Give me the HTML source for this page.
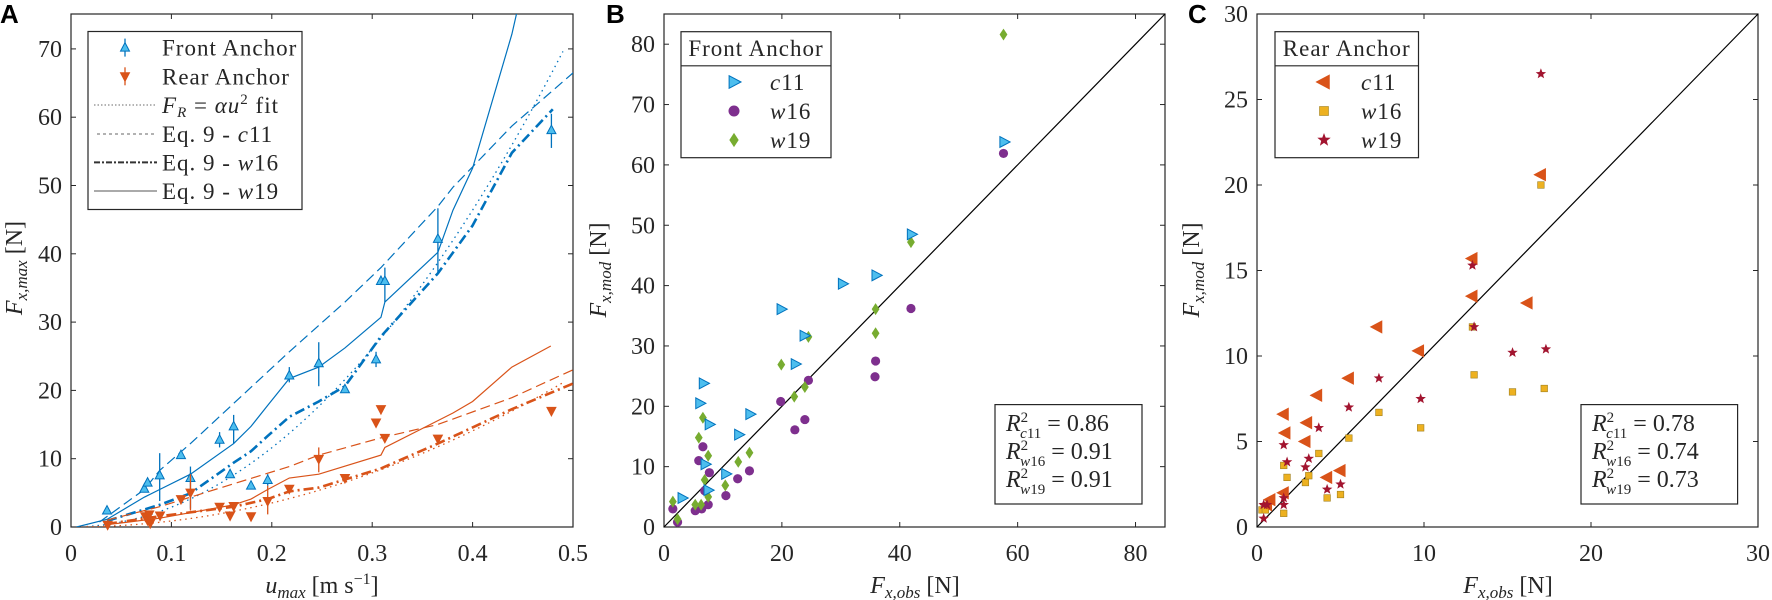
<!DOCTYPE html>
<html><head><meta charset="utf-8"><style>
html,body{margin:0;padding:0;background:#fff;}
svg{display:block;}
text{font-family:"Liberation Serif",serif;fill:#262626;}
.tk{font-size:24px;}
.lg{font-size:23px;letter-spacing:1px;}
.pl{font-family:"Liberation Sans",sans-serif;font-weight:bold;font-size:26px;fill:#000;}
</style></head><body>
<svg id="s" width="1772" height="600" xmlns="http://www.w3.org/2000/svg"></svg>
<script>
const S=document.getElementById('s');let h='';
const BL='#0072BD',LB='#4DBEEE',OR='#D95319',PU='#7E2F8E',GR='#77AC30',YE='#EDB120',RE='#A2142F';
function axes(x0,x1,y0,y1,xt,yt,fx,fy){
 h+=`<rect x="${x0}" y="${y1}" width="${x1-x0}" height="${y0-y1}" fill="none" stroke="#262626" stroke-width="1.2"/>`;
 xt.forEach(v=>{const x=fx(v);h+=`<line x1="${x}" y1="${y0}" x2="${x}" y2="${y0-5}" stroke="#262626"/><line x1="${x}" y1="${y1}" x2="${x}" y2="${y1+5}" stroke="#262626"/><text class="tk" x="${x}" y="${y0+34}" text-anchor="middle">${v}</text>`;});
 yt.forEach(v=>{const y=fy(v);h+=`<line x1="${x0}" y1="${y}" x2="${x0+5}" y2="${y}" stroke="#262626"/><line x1="${x1}" y1="${y}" x2="${x1-5}" y2="${y}" stroke="#262626"/><text class="tk" x="${x0-9}" y="${y+8}" text-anchor="end">${v}</text>`;});
}
const ax=X=>1.28+0.3273*X, ay=Y=>-0.22+0.3826*Y;
const fxA=v=>71+v*1004, fyA=v=>527-v*6.83;
axes(71,573,527,14,[0,0.1,0.2,0.3,0.4,0.5],[0,10,20,30,40,50,60,70],fxA,fyA);
h+=`<clipPath id="ca"><rect x="71" y="14" width="502" height="513"/></clipPath><g clip-path="url(#ca)">`;
function pl(pts,col,w,dash){h+=`<polyline points="${pts.map(p=>ax(p[0])+','+ay(p[1])).join(' ')}" fill="none" stroke="${col}" stroke-width="${w}" ${dash?'stroke-dasharray="'+dash+'"':''}/>`;}
function fit(a,col){let p=[];for(let u=0.01;u<=0.5;u+=0.01)p.push(fxA(u)+','+fyA(a*u*u));h+=`<polyline points="${p.join(' ')}" fill="none" stroke="${col}" stroke-width="1.3" stroke-dasharray="1.5 4"/>`;}
fit(290,BL);fit(88,OR);
pl([[230,1378],[323,1358],[437,1300],[484,1280],[578,1240],[710,1160],[763,1115],[814,1060],[880,990],[970,960],[1050,910],[1160,830],[1172,790],[1334,660],[1380,550],[1440,440],[1560,90],[1600,-60]],BL,1.2);
pl([[300,1365],[437,1280],[484,1230],[578,1160],[710,1055],[880,920],[1050,790],[1160,700],[1334,540],[1380,490],[1560,330],[1747,191]],BL,1.2,'10 5');
pl([[323,1362],[484,1320],[578,1290],[710,1210],[763,1180],[814,1140],[880,1090],[970,1050],[1050,1010],[1160,880],[1334,715],[1440,590],[1560,400],[1685,286]],BL,2.6,'10 4 2 4');
pl([[323,1372],[484,1355],[710,1320],[763,1305],[814,1280],[880,1250],[970,1240],[1160,1190],[1172,1170],[1334,1100],[1380,1080],[1440,1050],[1560,960],[1679,905]],OR,1.2);
pl([[323,1360],[484,1325],[578,1300],[710,1265],[880,1220],[970,1190],[1160,1145],[1334,1110],[1560,1040],[1747,967]],OR,1.2,'10 5');
pl([[323,1370],[484,1350],[710,1325],[814,1305],[880,1285],[970,1275],[1160,1225],[1334,1160],[1560,1070],[1747,1003]],OR,2.6,'10 4 2 4');
h+='</g>';
function triU(x,y,s,f,e){h+=`<polygon points="${x},${y-s} ${x-s*0.9},${y+s*0.7} ${x+s*0.9},${y+s*0.7}" fill="${f}" stroke="${e}" stroke-width="1"/>`;}
function triD(x,y,s,f,e){h+=`<polygon points="${x},${y+s} ${x-s*0.9},${y-s*0.7} ${x+s*0.9},${y-s*0.7}" fill="${f}" stroke="${e}" stroke-width="1"/>`;}
const fr=[[323,1335],[437,1278],[447,1262],[484,1243,1185,1310],[549,1190],[578,1250,1220,1330],[667,1150,1130,1170],[699,1240],[710,1115,1085,1160],[763,1270],[814,1255,1240,1270],[880,982,960,1000],[970,950,895,1010],[1050,1018],[1145,940,920,960],[1160,735],[1172,735,700,790],[1334,625,545,715]];
fr.forEach(p=>{if(p[2])h+=`<line x1="${ax(p[0])}" y1="${ay(p[2])}" x2="${ax(p[0])}" y2="${ay(p[3])}" stroke="${BL}" stroke-width="1.3"/>`;triU(ax(p[0]),ay(p[1]),5,LB,BL);});
h+=`<line x1="${fxA(0.4785)}" y1="${fyA(55.5)}" x2="${fxA(0.4785)}" y2="${fyA(60.5)}" stroke="${BL}" stroke-width="1.3"/>`;triU(fxA(0.4785),fyA(58.1),5,LB,BL);
const re=[[325,1372],[440,1350],[447,1360],[455,1368],[452,1345],[485,1348],[549,1305],[578,1288,1240,1335],[667,1325],[699,1348],[710,1323],[763,1350],[814,1310,1270,1345],[880,1278],[970,1200,1170,1235],[1050,1250],[1145,1105],[1160,1070],[1172,1145],[1334,1147]];
re.forEach(p=>{if(p[2])h+=`<line x1="${ax(p[0])}" y1="${ay(p[2])}" x2="${ax(p[0])}" y2="${ay(p[3])}" stroke="${OR}" stroke-width="1.3"/>`;triD(ax(p[0]),ay(p[1]),5,OR,OR);});
triD(fxA(0.4785),fyA(17),5,OR,OR);
h+=`<rect x="88" y="31.5" width="214" height="178" fill="#fff" stroke="#262626" stroke-width="1.2"/>`;
const ly=[47.6,76.3,105,134,162.4,191];
h+=`<line x1="125" y1="${ly[0]-9}" x2="125" y2="${ly[0]+9}" stroke="${BL}" stroke-width="1.3"/>`;triU(125,ly[0],5,LB,BL);
h+=`<line x1="125" y1="${ly[1]-9}" x2="125" y2="${ly[1]+9}" stroke="${OR}" stroke-width="1.3"/>`;triD(125,ly[1],5,OR,OR);
h+=`<line x1="94" y1="${ly[2]}" x2="157" y2="${ly[2]}" stroke="#888" stroke-width="1.3" stroke-dasharray="1.5 2"/>`;
h+=`<line x1="97" y1="${ly[3]}" x2="157" y2="${ly[3]}" stroke="#666" stroke-width="1" stroke-dasharray="3 3"/>`;
h+=`<line x1="94" y1="${ly[4]}" x2="157" y2="${ly[4]}" stroke="#333" stroke-width="2" stroke-dasharray="6 2 2 2"/>`;
h+=`<line x1="94" y1="${ly[5]}" x2="157" y2="${ly[5]}" stroke="#555" stroke-width="1"/>`;
const lt=['Front Anchor','Rear Anchor','<tspan font-style="italic">F</tspan><tspan font-style="italic" font-size="15" dy="4">R</tspan><tspan dy="-4"> = </tspan><tspan font-style="italic">αu</tspan><tspan font-size="15" dy="-9">2</tspan><tspan dy="9"> fit</tspan>','Eq. 9 - <tspan font-style="italic">c</tspan>11','Eq. 9 - <tspan font-style="italic">w</tspan>16','Eq. 9 - <tspan font-style="italic">w</tspan>19'];
lt.forEach((t,i)=>h+=`<text class="lg" x="162" y="${ly[i]+8}">${t}</text>`);
h+=`<text x="322" y="593" font-size="24" text-anchor="middle"><tspan font-style="italic">u</tspan><tspan font-style="italic" font-size="17" dy="5">max</tspan><tspan dy="-5"> [m s</tspan><tspan font-size="16" dy="-9">−1</tspan><tspan dy="9">]</tspan></text>`;
h+=`<text transform="translate(22,268) rotate(-90)" font-size="24" text-anchor="middle"><tspan font-style="italic">F</tspan><tspan font-style="italic" font-size="17" dy="5">x,max</tspan><tspan dy="-5"> [N]</tspan></text>`;
h+=`<text class="pl" x="0" y="23">A</text>`;
const fxB=v=>664+v*5.894, fyB=v=>527-v*6.035;
axes(664,1165,527,14,[0,20,40,60,80],[0,10,20,30,40,50,60,70,80],fxB,fyB);
h+=`<line x1="664" y1="527" x2="1165" y2="14" stroke="#000" stroke-width="1.2"/>`;
function triR(x,y,s,f,e){h+=`<polygon points="${x+s},${y} ${x-s*0.7},${y-s*0.9} ${x-s*0.7},${y+s*0.9}" fill="${f}" stroke="${e}" stroke-width="1"/>`;}
function triL(x,y,s,f,e){h+=`<polygon points="${x-s},${y} ${x+s*0.7},${y-s*0.9} ${x+s*0.7},${y+s*0.9}" fill="${f}" stroke="${e}" stroke-width="1"/>`;}
function circ(x,y,r,f){h+=`<circle cx="${x}" cy="${y}" r="${r}" fill="${f}"/>`;}
function dia(x,y,s,f){h+=`<polygon points="${x},${y-s*1.3} ${x+s*0.85},${y} ${x},${y+s*1.3} ${x-s*0.85},${y}" fill="${f}"/>`;}
function sq(x,y,s,f){h+=`<rect x="${x-s}" y="${y-s}" width="${2*s}" height="${2*s}" fill="${f}" stroke="#a08020" stroke-width="0.6"/>`;}
function star(x,y,r,f){let p=[];for(let i=0;i<10;i++){const a=-Math.PI/2+i*Math.PI/5,rr=i%2?r*0.42:r;p.push((x+rr*Math.cos(a)).toFixed(1)+','+(y+rr*Math.sin(a)).toFixed(1));}h+=`<polygon points="${p.join(' ')}" fill="${f}"/>`;}
const bc=[[3.1,4.8],[6.1,20.5],[6.7,23.8],[7.0,10.4],[7.7,17.0],[7.5,6.1],[10.5,8.8],[12.7,15.3],[14.6,18.7],[19.9,36.1],[22.3,27.0],[23.8,31.7],[30.3,40.3],[36,41.7],[42,48.5],[57.7,63.8]];
const bw16=[[1.5,3.0],[2.3,0.8],[5.3,2.7],[5.9,11.0],[6.4,3.0],[6.6,13.3],[6.9,6.0],[7.5,3.7],[7.7,9.0],[10.5,5.2],[12.5,8.0],[14.5,9.3],[19.8,20.8],[22.2,16.1],[23.9,17.8],[24.5,24.3],[35.9,27.5],[35.8,24.9],[41.9,36.2],[57.6,61.9]];
const bw19=[[1.5,4.2],[2.3,1.3],[5.3,3.7],[5.9,14.8],[6.3,3.7],[6.6,18.1],[6.9,7.8],[7.5,5.0],[7.5,11.8],[10.4,6.9],[12.6,10.8],[14.5,12.3],[19.9,26.9],[22.1,21.6],[23.9,23.2],[24.5,31.5],[35.9,32.1],[35.9,36.1],[41.9,47.2],[57.6,81.6]];
bw16.forEach(p=>circ(fxB(p[0]),fyB(p[1]),4.6,PU));
bw19.forEach(p=>dia(fxB(p[0]),fyB(p[1]),4.6,GR));
bc.forEach(p=>triR(fxB(p[0]),fyB(p[1]),6,LB,BL));
function legT(x,w,title,tx){h+=`<rect x="${x}" y="31.7" width="${w}" height="126" fill="#fff" stroke="#262626" stroke-width="1.2"/><line x1="${x}" y1="65.8" x2="${x+w}" y2="65.8" stroke="#262626" stroke-width="1.2"/><text class="lg" x="${x+w/2}" y="56" text-anchor="middle">${title}</text>`;
 ['c11','w16','w19'].forEach((t,i)=>h+=`<text class="lg" x="${tx}" y="${90+i*29}"><tspan font-style="italic">${t[0]}</tspan>${t.slice(1)}</text>`);}
legT(681,150,'Front Anchor',770);
triR(734,82,7,LB,BL);circ(734,111,5.5,PU);dia(734,140,5.5,GR);
function rbox(x,w,vals){h+=`<rect x="${x}" y="404.6" width="${w}" height="99.4" fill="#fff" stroke="#262626" stroke-width="1.2"/>`;
 ['c11','w16','w19'].forEach((t,i)=>h+=`<text font-size="24" x="${x+11}" y="${431+i*28}"><tspan font-style="italic">R</tspan><tspan font-size="15" dy="-9">2</tspan><tspan font-size="15" font-style="italic" dx="-8" dy="16">${t[0]}</tspan><tspan font-size="15">${t.slice(1)}</tspan><tspan dy="-7"> = ${vals[i]}</tspan></text>`);}
rbox(995,147,['0.86','0.91','0.91']);
h+=`<text x="915" y="593" font-size="24" text-anchor="middle"><tspan font-style="italic">F</tspan><tspan font-style="italic" font-size="17" dy="5">x,obs</tspan><tspan dy="-5"> [N]</tspan></text>`;
h+=`<text transform="translate(606,270) rotate(-90)" font-size="24" text-anchor="middle"><tspan font-style="italic">F</tspan><tspan font-style="italic" font-size="17" dy="5">x,mod</tspan><tspan dy="-5"> [N]</tspan></text>`;
h+=`<text class="pl" x="606" y="23">B</text>`;
const fxC=v=>1257+v*16.7, fyC=v=>527-v*17.1;
axes(1257,1758,527,14,[0,10,20,30],[0,5,10,15,20,25,30],fxC,fyC);
h+=`<line x1="1257" y1="527" x2="1758" y2="14" stroke="#000" stroke-width="1.2"/>`;
const cy16=[[0.3,1.0],[0.5,1.0],[1.6,0.8],[1.6,3.6],[1.8,2.9],[2.9,2.6],[3.1,3.0],[3.7,4.3],[4.2,1.7],[5.0,1.9],[5.5,5.2],[7.3,6.7],[9.8,5.8],[13.0,8.9],[15.3,7.9],[17.2,8.1],[17.0,20.0],[12.9,11.7]];
const cc=[[0.6,1.3],[0.8,1.6],[1.6,6.6],[1.7,5.5],[1.6,2.0],[2.9,5.0],[3.0,6.1],[3.6,7.7],[4.2,2.9],[5.0,3.3],[5.5,8.7],[7.2,11.7],[9.7,10.3],[12.9,15.7],[12.9,13.5],[16.2,13.1],[17.0,20.6]];
const cs=[[0.4,1.3],[0.4,0.5],[0.6,1.3],[1.6,4.8],[1.8,3.8],[1.6,1.3],[1.6,1.7],[2.9,3.5],[3.1,4.0],[3.7,5.8],[4.2,2.2],[5.0,2.5],[5.5,7.0],[7.3,8.7],[9.8,7.5],[12.9,15.3],[13.0,11.7],[15.3,10.2],[17.3,10.4],[17.0,26.5]];
cy16.forEach(p=>sq(fxC(p[0]),fyC(p[1]),3.3,YE));
cc.forEach(p=>triL(fxC(p[0]),fyC(p[1]),6.5,OR,OR));
cs.forEach(p=>star(fxC(p[0]),fyC(p[1]),5.5,RE));
legT(1275,143.5,'Rear Anchor',1361);
triL(1324,82,7.5,OR,OR);sq(1324,111,4.5,YE);star(1324,140,7,RE);
rbox(1581,156.6,['0.78','0.74','0.73']);
h+=`<text x="1508" y="593" font-size="24" text-anchor="middle"><tspan font-style="italic">F</tspan><tspan font-style="italic" font-size="17" dy="5">x,obs</tspan><tspan dy="-5"> [N]</tspan></text>`;
h+=`<text transform="translate(1199,270) rotate(-90)" font-size="24" text-anchor="middle"><tspan font-style="italic">F</tspan><tspan font-style="italic" font-size="17" dy="5">x,mod</tspan><tspan dy="-5"> [N]</tspan></text>`;
h+=`<text class="pl" x="1188" y="23">C</text>`;
S.innerHTML=h;
</script>
</body></html>
